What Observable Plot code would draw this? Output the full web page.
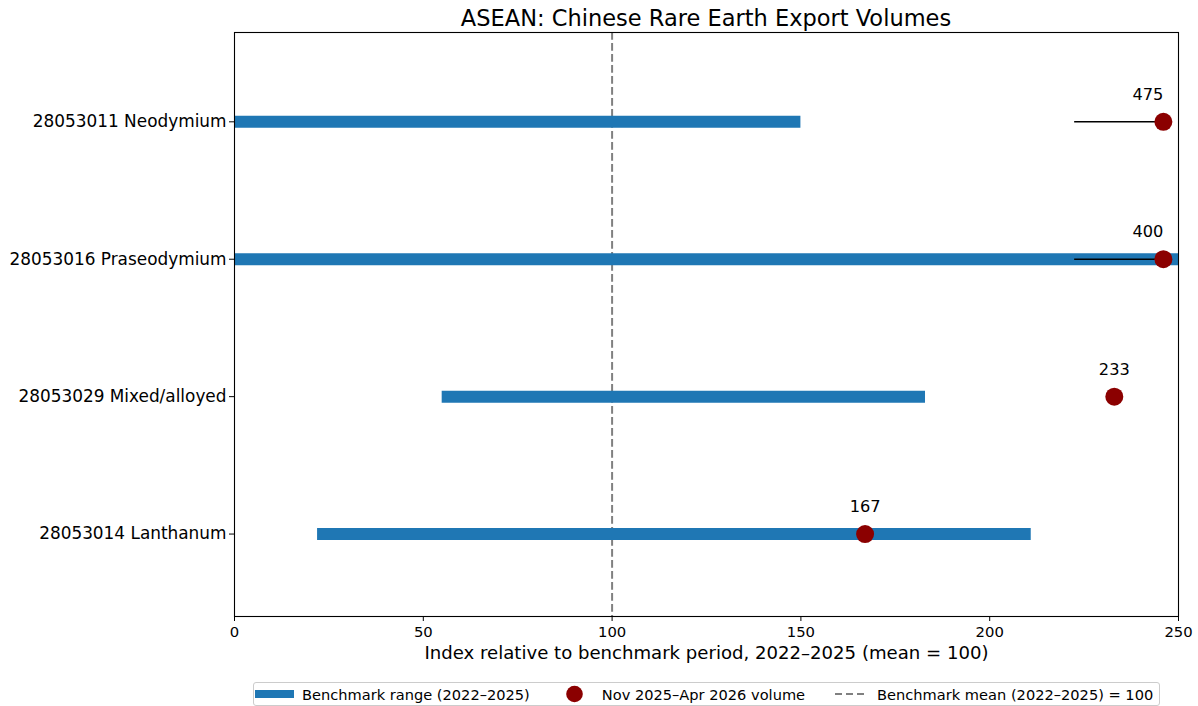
<!DOCTYPE html>
<html>
<head>
<meta charset="utf-8">
<script src="https://cdn.jsdelivr.net/npm/d3@7"></script>
<script src="https://cdn.jsdelivr.net/npm/@observablehq/plot@0.6"></script>
<style>
  html, body { margin: 0; padding: 0; background: #fff; }
  body { font-family: "DejaVu Sans", sans-serif; color: #000; width: 1198px; }
  #title {
    box-sizing: content-box;
    height: 22px; padding-top: 6px; line-height: 24px;
    padding-left: 234px; padding-right: 20px;
    text-align: center; font-size: 22.5px; white-space: nowrap;
  }
  #chart svg { display: block; }
  #legend {
    margin-left: 253px; margin-top: 10px;
    width: 904px; height: 22px;
    border: 1px solid #cccccc; border-radius: 3px;
    display: flex; align-items: center;
    font-size: 14.6px; padding-left: 1px; box-sizing: content-box;
  }
  .item { display: flex; align-items: center; margin-right: 25px; white-space: nowrap; }
  .item svg { display: block; margin-right: 8px; }
</style>
</head>
<body>
<div id="title">ASEAN: Chinese Rare Earth Export Volumes</div>
<div id="chart"></div>
<div id="legend"></div>
<script>
// Commodity codes, top to bottom
const categories = [
  "28053011 Neodymium",
  "28053016 Praseodymium",
  "28053029 Mixed/alloyed",
  "28053014 Lanthanum"
];
// Benchmark range (2022–2025), index units (mean = 100)
const benchmarkLow  = [0, 0, 55, 22];
const benchmarkHigh = [150, 290, 183, 211];
// Nov 2025–Apr 2026 volume, index units
const latestIndex = [475, 400, 233, 167];
// Axis
const xTicks = [0, 50, 100, 150, 200, 250];
const benchmarkMean = 100;

const xMax = xTicks[xTicks.length - 1];
const offscaleAt = xMax - 4;      // where off-scale values are pinned
const leadLength = 23.5;          // length of the lead line for pinned values

const rows = categories.map((name, i) => {
  const v = latestIndex[i];
  const off = v > xMax;
  return {
    name,
    pos: categories.length - 1 - i,
    low: benchmarkLow[i],
    high: benchmarkHigh[i],
    value: v,
    off,
    shown: off ? offscaleAt : v,
    leadStart: offscaleAt - leadLength
  };
});
const onScale = rows.filter(d => !d.off);
const offScale = rows.filter(d => d.off);

const blue = "#1f77b4";
const red = "#8b0000";
const grey = "#808080";

const chart = Plot.plot({
  width: 1198,
  height: 644,
  marginLeft: 234,
  marginRight: 20,
  marginTop: 4,
  marginBottom: 56,
  style: { fontFamily: "DejaVu Sans, sans-serif", fontSize: "16.7px", color: "#000", background: "#fff", overflow: "visible" },
  x: { domain: [0, xMax], label: null },
  y: { domain: [-0.6, 3.65], label: null },
  marks: [
    Plot.ruleX([benchmarkMean], { stroke: grey, strokeWidth: 2, strokeDasharray: "7.7,3.3" }),
    Plot.ruleY(rows, { y: "pos", x1: "low", x2: "high", stroke: blue, strokeWidth: 12, clip: true }),
    Plot.ruleY(offScale, { y: "pos", x1: "leadStart", x2: "shown", stroke: "#000", strokeWidth: 1.6 }),
    Plot.dot(rows, { x: "shown", y: "pos", r: 9, fill: red, stroke: null }),
    Plot.text(onScale, { x: "shown", y: "pos", text: d => String(d.value), dy: -27, fontSize: 16.2, textAnchor: "middle", fill: "#000" }),
    Plot.text(offScale, { x: "shown", y: "pos", text: d => String(d.value), dy: -27, fontSize: 16.2, textAnchor: "end", fill: "#000" }),
    Plot.axisX({ ticks: xTicks, tickSize: 5, tickPadding: 5, fontSize: 14.8, label: null }),
    Plot.axisY({ ticks: rows.map(d => d.pos), tickFormat: p => rows.find(d => d.pos === p).name, tickSize: 5, tickPadding: 3, fontSize: 16.9, label: null }),
    Plot.frame({ stroke: "#000", strokeWidth: 1.1 }),
    Plot.text(["Index relative to benchmark period, 2022–2025 (mean = 100)"], {
      frameAnchor: "bottom", dy: 36.5, fontSize: 18.1, fill: "#000", lineAnchor: "middle"
    })
  ]
});
document.getElementById("chart").append(chart);

// Legend
const legendItems = [
  { label: "Benchmark range (2022–2025)", swatch: `<rect x="0" y="8" width="39" height="8" fill="${blue}"/>` },
  { label: "Nov 2025–Apr 2026 volume", swatch: `<circle cx="19.5" cy="12" r="8.3" fill="${red}"/>` },
  { label: "Benchmark mean (2022–2025) = 100", swatch: `<line x1="5" x2="34" y1="12" y2="12" stroke="${grey}" stroke-width="2" stroke-dasharray="7,4"/>` }
];
const legend = document.getElementById("legend");
for (const it of legendItems) {
  const el = document.createElement("div");
  el.className = "item";
  el.innerHTML = `<svg width="39" height="24">${it.swatch}</svg><span>${it.label}</span>`;
  legend.append(el);
}
</script>
</body>
</html>
